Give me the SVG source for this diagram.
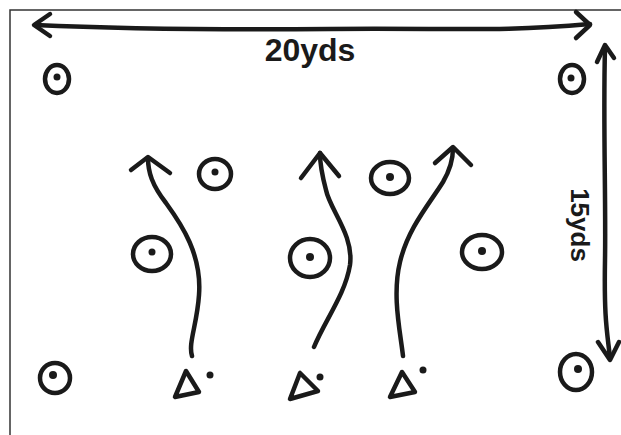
<svg xmlns="http://www.w3.org/2000/svg" width="621" height="435" viewBox="0 0 621 435">
<style>
.ln{fill:none;stroke:#1a1a1a;stroke-width:4.5;stroke-linecap:round;stroke-linejoin:round}
.cone{fill:none;stroke:#1a1a1a;stroke-width:4.5}
.dot{fill:#1a1a1a}
.tri{fill:none;stroke:#1a1a1a;stroke-width:4.5;stroke-linejoin:round}
.lbl{font-family:"Liberation Sans",Arial,sans-serif;font-weight:bold;fill:#1a1a1a}
.frame{fill:none;stroke:#333;stroke-width:1.5}
</style>
<rect width="621" height="435" fill="#fff"/>
<path class="frame" d="M10,435 L10,10 L621,10"/>
<g id="connectors">
<path class="ln" d="M35,25 C100,28 200,30 330,29 S500,32 590,24"/>
<path class="ln" d="M50,14 L34,25 L50,36"/>
<path class="ln" d="M576,12 L590,25 L576,38"/>
<path class="ln" d="M605,48 C603,120 606,200 605,260 S607,330 610,358"/>
<path class="ln" d="M597,62 L605,45 L614,58"/>
<path class="ln" d="M598,342 L610,360 L619,342"/>
<path class="ln" d="M192,356 C188,343 197,325 199,295 C202,255 182,225 166,203 C152,185 148,172 148,158"/>
<path class="ln" d="M131,170 L148,157 L170,173"/>
<path class="ln" d="M314,347 C325,320 345,295 350,265 C354,235 330,210 326,190 C322,175 320,165 320,153"/>
<path class="ln" d="M301,178 L320,153 L339,176"/>
<path class="ln" d="M403,356 C400,330 392,295 400,262 C408,228 430,203 443,182 C450,170 453,160 453,148"/>
<path class="ln" d="M435,163 L453,147 L471,165"/>
</g>
<g id="label-width"><text class="lbl" x="310" y="61" font-size="32" text-anchor="middle">20yds</text></g>
<g id="label-height"><text class="lbl" transform="translate(571,225) rotate(90)" font-size="26" text-anchor="middle">15yds</text></g>
<g id="cone-1"><ellipse class="cone" cx="57" cy="79" rx="12" ry="14"/><circle class="dot" cx="57" cy="77" r="3.5"/></g>
<g id="cone-2"><ellipse class="cone" cx="572" cy="79" rx="12" ry="14"/><circle class="dot" cx="571" cy="78" r="3.5"/></g>
<g id="cone-3"><ellipse class="cone" cx="215" cy="174" rx="16" ry="15"/><circle class="dot" cx="215" cy="172" r="3.5"/></g>
<g id="cone-4"><ellipse class="cone" cx="152" cy="254" rx="19" ry="17"/><circle class="dot" cx="152" cy="252" r="3.5"/></g>
<g id="cone-5"><ellipse class="cone" cx="390" cy="178" rx="19" ry="16"/><circle class="dot" cx="390" cy="177" r="4"/></g>
<g id="cone-6"><ellipse class="cone" cx="310" cy="258" rx="20" ry="19"/><circle class="dot" cx="310" cy="257" r="4"/></g>
<g id="cone-7"><ellipse class="cone" cx="482" cy="252" rx="20" ry="17"/><circle class="dot" cx="482" cy="251" r="4"/></g>
<g id="cone-8"><ellipse class="cone" cx="55" cy="378" rx="15" ry="15"/><circle class="dot" cx="53" cy="375" r="4"/></g>
<g id="cone-9"><ellipse class="cone" cx="576" cy="372" rx="16" ry="18"/><circle class="dot" cx="578" cy="369" r="4"/></g>
<g id="player-1"><path class="tri" d="M186,371 L175,397 L199,392 Z"/><circle class="dot" cx="210" cy="375" r="3.5"/></g>
<g id="player-2"><path class="tri" d="M300,373 L290,399 L318,391 Z"/><circle class="dot" cx="320" cy="377" r="3.5"/></g>
<g id="player-3"><path class="tri" d="M402,372 L390,397 L415,392 Z"/><circle class="dot" cx="423" cy="370" r="3.5"/></g>
</svg>
